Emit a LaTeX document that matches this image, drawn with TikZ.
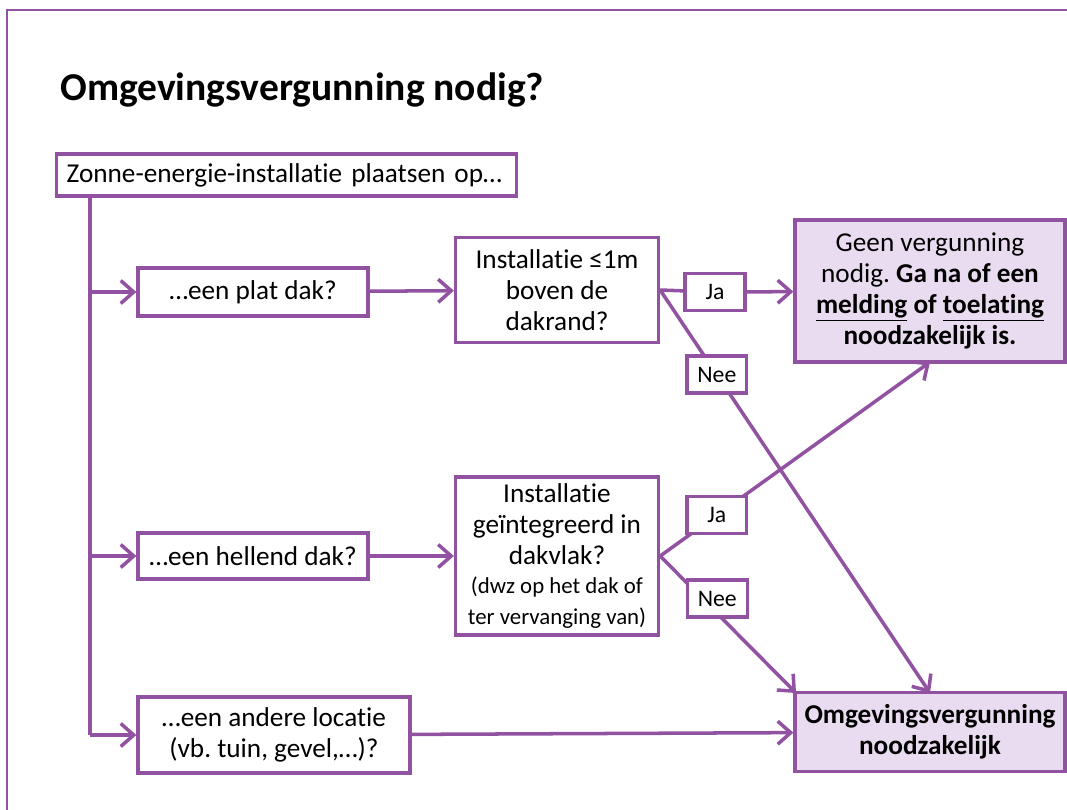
\documentclass[tikz,border=0pt]{standalone}
\usepackage{fontspec}
\setmainfont{Carlito}[Ligatures=NoCommon]
\usetikzlibrary{arrows.meta}
\frenchspacing

\definecolor{vpurple}{RGB}{146,82,162}
\definecolor{vlilac}{RGB}{234,220,240}

\newcommand{\smalltxt}{\fontsize{13}{15.5}\selectfont}

\tikzset{
  box/.style={draw=vpurple, line width=1.9pt, fill=white, text=black, align=center,
    inner sep=2pt, font=\fontsize{15.5}{17.5}\selectfont},
  result/.style={box, fill=vlilac},
  answer/.style={box, minimum width=1.2cm, minimum height=0.74cm,
    font=\fontsize{13.5}{15}\selectfont},
  conn/.style={vpurple, line width=2pt},
  arr/.style={conn, -{Straight Barb[length=2.6mm,width=4.6mm]}},
}

\begin{document}
\begin{tikzpicture}[x=0.02cm, y=-0.02cm]
  \useasboundingbox (0,0) rectangle (1067,809);
  \draw[vpurple, line width=1.5pt] (1080,10) -- (7,10) -- (7,820);

  \node[anchor=base west, inner sep=0pt, font=\fontsize{22.5}{26}\bfseries] (title) at (60,100) {Omgevingsvergunning nodig?};

  \node[box, anchor=west, minimum height=0.84cm, inner xsep=0.2cm, text width=8.8cm, align=left] (start) at (55,175) {Zonne-energie-installatie plaatsen op\dots};
  \node[box, minimum width=4.6cm, minimum height=0.96cm] (plat) at (253,292) {\dots een plat dak?};
  \node[box, minimum width=4.6cm, minimum height=0.92cm] (hellend) at (253,556) {\dots een hellend dak?};
  \node[box, minimum width=5.44cm, minimum height=1.52cm] (ander) at (274,735) {\dots een andere locatie\\(vb. tuin, gevel,\dots)?};

  \node[box, minimum width=4.06cm, minimum height=2.1cm] (q1) at (557,290) {Installatie ≤1m\\boven de\\dakrand?};
  \node[box, minimum width=4.06cm, minimum height=3.16cm] (q2) at (557,556) {Installatie\\geïntegreerd in\\dakvlak?\\[-1pt]\smalltxt(dwz op het dak of\\\smalltxt ter vervanging van)};

  \node[result, minimum width=5.4cm, minimum height=2.84cm] (geen) at (930,291) {Geen vergunning\\nodig. \textbf{Ga na of een}\\\textbf{\underline{melding} of \underline{toelating}}\\\textbf{noodzakelijk is.}};
  \node[result, minimum width=5.4cm, minimum height=1.58cm, font=\fontsize{15.5}{17.5}\bfseries] (nodig) at (930,732) {Omgevingsvergunning\\noodzakelijk};

  \coordinate (top1) at (930,362);
  \coordinate (top2) at (930,693);
  \coordinate (corner2) at (796,693);

  % stam met takken
  \draw[conn] (90,196) -- (90,735);
  \draw[arr] (90,292) -- (plat);
  \draw[arr] (90,556) -- (hellend);
  \draw[arr] (90,735) -- (ander);
  \draw[arr] (plat) -- (q1);
  \draw[arr] (hellend) -- (q2);
  \draw[arr] (ander) -- (nodig);

  % plat dak
  \node[answer] (ja1) at (715,292) {Ja};
  \draw[conn] (q1.east) -- (ja1);
  \draw[arr] (ja1) -- (geen);
  \draw[arr] (q1.east) -- node[answer, pos=0.21] (nee1) {Nee} (top2);

  % hellend dak
  \draw[arr] (q2.east) -- node[answer, pos=0.21] (ja2) {Ja} (top1);
  \draw[arr] (q2.east) -- node[answer, pos=0.42, yshift=0.3cm] (nee2) {Nee} (corner2);
\end{tikzpicture}
\end{document}
